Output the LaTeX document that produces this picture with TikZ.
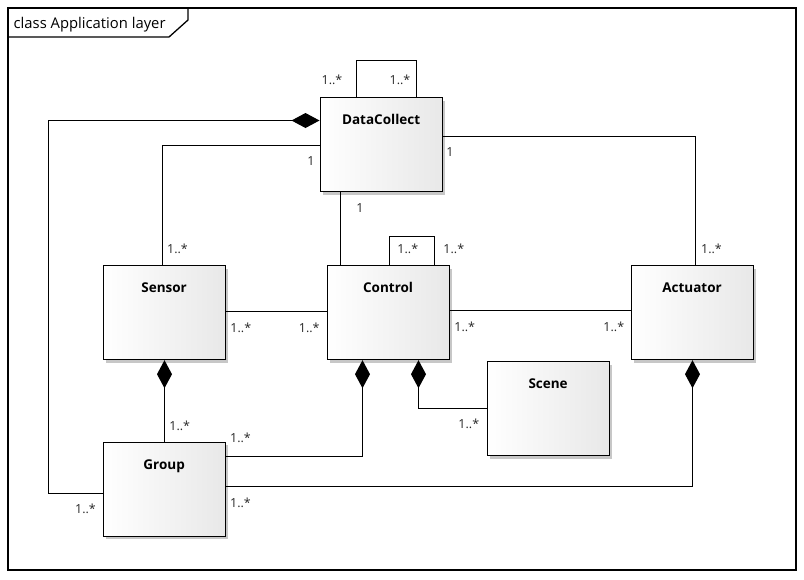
\documentclass[tikz,border=0pt]{standalone}
\usepackage{fontspec}
\setmainfont{Open Sans}
\usetikzlibrary{arrows.meta,shadows}
\tikzset{
  cls/.style={draw=black, line width=1.2pt, inner sep=0pt, anchor=north west,
    minimum width=122pt, text height=27pt, text depth=67pt,
    left color=white, right color=black!9,
    drop shadow={shadow xshift=3pt, shadow yshift=-3pt, fill=black!22, opacity=1},
    font=\fontsize{13.5pt}{15pt}\selectfont\bfseries},
  conn/.style={line width=1.2pt, draw=black},
  comp/.style={conn, {Diamond[length=28pt,width=15pt]}-},
  mult/.style={inner sep=0pt, text=black!85, font=\fontsize{12.5pt}{14pt}\selectfont},
  frm/.style={line width=1.3pt, draw=black}
}
\begin{document}
\begin{tikzpicture}[x=1pt,y=-1pt]
\useasboundingbox (0,0) rectangle (804,579);
% frame
\draw[frm] (8,8) rectangle (796,570);
\draw[frm] (8,37) -- (169,37) -- (188,20) -- (188,8);
\node[anchor=base west, inner sep=0pt, font=\fontsize{14.8pt}{16pt}\selectfont] (ttl) at (13.5,28) {class Application layer};
% classes
\node[cls] (dc)  at (319.5,97) {DataCollect};
\node[cls] (sen) at (102.5,265) {Sensor};
\node[cls] (ctl) at (326.5,265) {Control};
\node[cls] (act) at (630.5,265) {Actuator};
\node[cls] (scn) at (486.5,361) {Scene};
\node[cls] (grp) at (102.5,441.5) {Group};
% DataCollect self association
\draw[conn] (dc.north -| 356.5,0) -- (356.5,60.5) -- (416.5,60.5) -- (dc.north -| 416.5,0);
\node[mult] (m1) at (332,80) {1..*};
\node[mult] (m2) at (400,80) {1..*};
% DataCollect -- Group (composition)
\draw[comp] (dc.west |- 0,120.5) -| (48.5,493.5) -- (grp.west |- 0,493.5);
\node[mult] (m3) at (85.5,509) {1..*};
% DataCollect -- Sensor
\draw[conn] (dc.west |- 0,145.5) -| (sen.north -| 162.5,0);
\node[mult] (m4) at (311,161.3) {1};
\node[mult] (m5) at (177.5,249) {1..*};
% DataCollect -- Actuator
\draw[conn] (dc.east |- 0,136.5) -| (act.north -| 695.5,0);
\node[mult] (m6) at (450,152.5) {1};
\node[mult] (m7) at (711.5,249) {1..*};
% DataCollect -- Control
\draw[conn] (dc.south -| 340.5,0) -- (ctl.north -| 340.5,0);
\node[mult] (m8) at (360,208.3) {1};
% Control self association
\draw[conn] (ctl.north -| 389.5,0) -- (389.5,236.5) -- (434.5,236.5) -- (ctl.north -| 434.5,0);
\node[mult] (m9) at (407.8,249) {1..*};
\node[mult] (m10) at (453.8,249) {1..*};
% Sensor -- Control
\draw[conn] (sen.east |- 0,311.5) -- (ctl.west |- 0,311.5);
\node[mult] (m11) at (240.8,328.3) {1..*};
\node[mult] (m12) at (309.2,328.3) {1..*};
% Control -- Actuator
\draw[conn] (ctl.east |- 0,310.5) -- (act.west |- 0,310.5);
\node[mult] (m13) at (464.7,326.5) {1..*};
\node[mult] (m14) at (613.8,326.5) {1..*};
% Sensor <>-- Group
\draw[comp] (sen.south -| 164.5,0) -- (grp.north -| 164.5,0);
\node[mult] (m15) at (179.7,425.8) {1..*};
% Control <>-- Group
\draw[comp] (ctl.south -| 362.5,0) |- (grp.east |- 0,456.5);
\node[mult] (m16) at (240.5,437.5) {1..*};
% Control <>-- Scene
\draw[comp] (ctl.south -| 418.5,0) |- (scn.west |- 0,408.5);
\node[mult] (m17) at (468.8,424) {1..*};
% Actuator <>-- Group
\draw[comp] (act.south -| 692.5,0) |- (grp.east |- 0,486.5);
\node[mult] (m18) at (240.5,503.3) {1..*};
\end{tikzpicture}
\end{document}
